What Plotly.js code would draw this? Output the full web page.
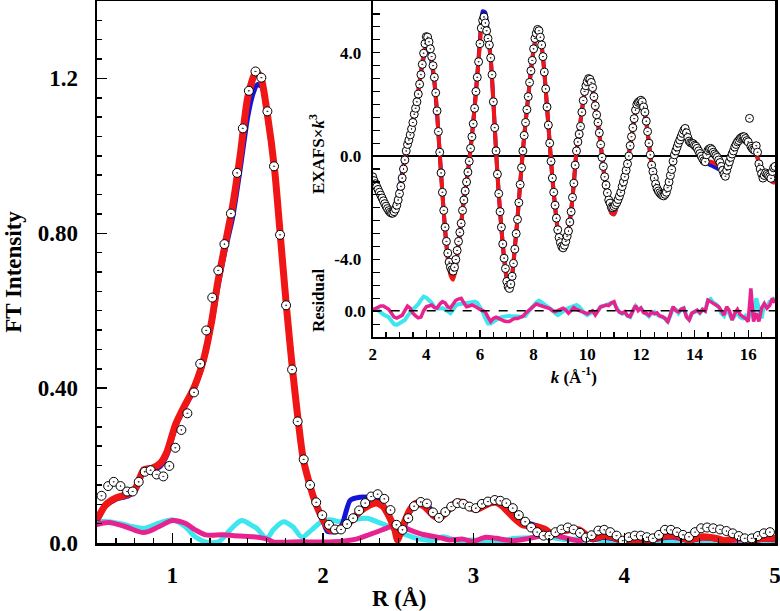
<!DOCTYPE html>
<html>
<head>
<meta charset="utf-8">
<script src="https://cdn.plot.ly/plotly-3.0.1.min.js"></script>
<style>html,body{margin:0;padding:0;background:#fff;}#chart{width:780px;height:611px;}</style>
</head>
<body>
<div id="chart"></div>
<script>
// ---------------- Main panel: FT magnitude vs R ----------------
const rData = [0.53,0.574,0.611,0.656,0.70,0.737,0.777,0.817,0.856,0.896,0.94,0.98,1.02,1.06,1.10,1.144,1.185,1.225,1.265,1.305,1.346,1.389,1.43,1.468,1.508,1.552,1.591,1.631,1.675,1.715,1.755,1.795,1.832,1.872,1.914,1.955,1.995,2.04,2.08,2.12,2.16,2.20,2.24,2.28,2.32,2.363,2.407,2.448,2.488,2.528,2.566,2.605,2.649,2.69,2.73,2.77,2.812,2.852,2.892,2.932,2.972,3.015,3.055,3.095,3.14,3.177,3.217,3.26,3.30,3.342,3.382,3.422,3.464,3.503,3.543,3.583,3.625,3.664,3.706,3.746,3.783,3.828,3.867,3.907,3.949,3.99,4.03,4.07,4.11,4.15,4.19,4.23,4.27,4.31,4.35,4.39,4.43,4.47,4.51,4.55,4.59,4.636,4.678,4.72,4.76,4.80,4.846,4.887,4.927,4.967];
const ftData = [0.122,0.147,0.158,0.147,0.133,0.133,0.158,0.184,0.188,0.177,0.172,0.199,0.246,0.292,0.335,0.389,0.463,0.549,0.634,0.704,0.772,0.851,0.956,1.071,1.168,1.218,1.202,1.115,0.973,0.796,0.614,0.448,0.314,0.216,0.150,0.105,0.072,0.047,0.035,0.035,0.049,0.064,0.084,0.103,0.120,0.126,0.114,0.085,0.047,0.034,0.064,0.095,0.106,0.102,0.079,0.065,0.080,0.094,0.103,0.101,0.094,0.090,0.101,0.107,0.111,0.109,0.103,0.090,0.072,0.055,0.040,0.028,0.019,0.019,0.028,0.035,0.040,0.035,0.026,0.014,0.020,0.032,0.034,0.028,0.019,0.006,0.015,0.019,0.019,0.015,0.012,0.021,0.034,0.034,0.028,0.021,0.016,0.028,0.038,0.040,0.038,0.035,0.031,0.025,0.018,0.012,0.012,0.018,0.025,0.028];

const rFitRed = [0.5,0.556,0.62,0.71,0.755,0.81,0.865,0.92,0.965,1.02,1.075,1.13,1.163,1.207,1.263,1.3,1.35,1.4,1.45,1.5,1.555,1.59,1.63,1.68,1.72,1.76,1.8,1.87,1.936,2.0,2.046,2.07,2.11,2.18,2.245,2.31,2.356,2.4,2.44,2.477,2.495,2.52,2.576,2.62,2.675,2.73,2.775,2.82,2.885,2.93,2.974,3.02,3.106,3.15,3.194,3.26,3.327,3.415,3.48,3.525,3.57,3.636,3.7,3.746,3.79,3.856,3.92,3.99,4.077,4.165,4.27,4.34,4.43,4.52,4.61,4.67,4.76,4.85,4.92,5.0];
const ftFitRed = [0.06,0.098,0.115,0.127,0.141,0.189,0.193,0.206,0.236,0.305,0.35,0.39,0.42,0.473,0.577,0.67,0.77,0.87,1.0,1.15,1.218,1.2,1.11,0.96,0.78,0.6,0.44,0.215,0.12,0.06,0.034,0.032,0.038,0.055,0.081,0.098,0.103,0.094,0.068,0.034,0.008,0.034,0.085,0.103,0.094,0.072,0.064,0.081,0.105,0.105,0.092,0.087,0.103,0.105,0.094,0.068,0.047,0.042,0.034,0.021,0.029,0.034,0.034,0.021,0.012,0.018,0.016,0.006,0.008,0.008,0.018,0.02,0.008,0.016,0.012,0.006,0.016,0.008,0.012,0.012];

const rFitBlue = [0.5,0.556,0.62,0.71,0.755,0.81,0.865,0.92,0.965,1.02,1.075,1.13,1.163,1.207,1.263,1.3,1.35,1.4,1.45,1.5,1.535,1.565,1.595,1.63,1.68,1.72,1.76,1.8,1.87,1.936,2.0,2.03,2.1,2.13,2.18,2.245,2.3,2.356,2.42,2.47,2.505,2.53,2.576,2.65,2.7,2.75,2.775,2.82,2.885,2.93,2.974,3.02,3.106,3.15,3.194,3.26,3.33,3.415,3.48,3.525,3.57,3.636,3.7,3.746,3.79,3.856,3.92,3.99,4.077,4.165,4.27,4.34,4.43,4.52,4.61,4.67,4.76,4.85,4.92,5.0];
const ftFitBlue = [0.058,0.095,0.112,0.122,0.135,0.183,0.188,0.198,0.228,0.298,0.345,0.385,0.415,0.468,0.57,0.655,0.755,0.84,0.965,1.1,1.16,1.184,1.178,1.1,0.955,0.78,0.6,0.44,0.215,0.12,0.058,0.03,0.03,0.05,0.11,0.118,0.118,0.114,0.081,0.045,0.016,0.03,0.08,0.107,0.095,0.068,0.066,0.083,0.107,0.106,0.093,0.088,0.104,0.105,0.097,0.078,0.056,0.045,0.034,0.021,0.027,0.032,0.03,0.018,0.008,0.014,0.012,0.004,0.006,0.006,0.014,0.016,0.006,0.014,0.01,0.004,0.014,0.006,0.01,0.01];

const rResCyan = [0.49,0.578,0.667,0.74,0.81,0.91,1.0,1.086,1.152,1.22,1.307,1.384,1.46,1.53,1.56,1.627,1.67,1.737,1.8,1.86,1.925,1.99,2.046,2.11,2.2,2.29,2.377,2.466,2.554,2.642,2.73,2.797,2.885,2.995,3.1,3.2,3.26,3.39,3.46,3.55,3.64,3.75,3.85,3.95,4.1,4.3,4.5,4.7,5.0];
const ftResCyan = [0.055,0.055,0.049,0.042,0.038,0.051,0.06,0.042,0.016,0.003,0.003,0.034,0.058,0.045,0.038,0.012,0.034,0.055,0.042,0.015,0.034,0.055,0.06,0.055,0.06,0.064,0.052,0.038,0.021,0.01,0.007,0.016,0.007,0.008,0.004,0.006,0.012,0.014,0.02,0.012,0.008,0.014,0.006,0.004,0.006,0.004,0.006,0.004,0.004];

const rResPink = [0.49,0.578,0.69,0.81,0.91,1.0,1.086,1.152,1.22,1.33,1.41,1.54,1.627,1.67,1.85,2.07,2.22,2.31,2.42,2.49,2.576,2.664,2.775,2.84,2.93,2.995,3.08,3.15,3.26,3.37,3.5,3.6,3.7,3.83,3.92,4.0,4.14,4.29,4.43,4.55,4.7,4.85,5.0];
const ftResPink = [0.047,0.053,0.042,0.027,0.042,0.058,0.051,0.034,0.021,0.021,0.019,0.016,0.01,0.003,0.003,0.003,0.01,0.022,0.038,0.048,0.034,0.022,0.014,0.008,0.01,0.004,0.015,0.012,0.006,0.012,0.021,0.014,0.006,0.016,0.012,0.003,0.006,0.016,0.008,0.012,0.006,0.01,0.008];

const rTickVals = [1,2,3,4,5];
const ftLabelVals = [0,0.4,0.8,1.2];
const ftLabelText = ['0.0','0.40','0.80','1.2'];
const ftMajorTickVals = [0,0.1,0.2,0.3,0.4,0.5,0.6,0.7,0.8,0.9,1.0,1.1,1.2,1.3,1.4];

// ---------------- Inset: EXAFS x k^3 vs k ----------------
const kStart = 2;
const kStepData = 0.05;
const kStepFit = 0.1;
const exafsData = [
 -0.80,-0.95,-1.07,-1.18,-1.29,-1.40,-1.51,-1.62,-1.73,-1.84,-1.94,-2.03,-2.11,-2.17,-2.21,-2.21,-2.15,-2.05,-1.90,-1.70,
 -1.45,-1.17,-0.85,-0.50,-0.15,0.20,0.45,0.62,0.82,1.05,1.30,1.62,1.85,2.10,2.40,2.78,3.15,3.55,3.98,4.35,
 4.62,4.60,4.42,4.15,3.85,3.50,3.05,2.45,1.75,0.95,0.15,-0.65,-1.40,-2.10,-2.75,-3.30,-3.75,-4.10,-4.30,-4.40,
 -4.45,-4.30,-4.00,-3.65,-3.30,-2.95,-2.60,-2.10,-1.70,-1.35,-1.00,-0.62,-0.20,0.30,0.75,1.25,1.85,2.50,3.05,3.65,
 4.35,4.95,5.25,5.38,5.15,4.85,4.55,4.30,3.80,3.15,2.10,1.10,0.20,-0.70,-1.45,-2.15,-2.75,-3.40,-3.95,-4.35,
 -4.85,-5.05,-5.12,-4.95,-4.65,-4.15,-3.60,-3.00,-2.45,-1.80,-1.10,-0.45,0.20,0.80,1.30,1.80,2.30,2.85,3.30,3.70,
 4.15,4.55,4.75,4.90,4.85,4.60,4.30,3.85,3.25,2.60,1.90,1.20,0.50,-0.20,-0.85,-1.40,-1.90,-2.40,-2.85,-3.15,
 -3.35,-3.50,-3.55,-3.45,-3.30,-3.10,-2.90,-2.55,-2.15,-1.60,-1.05,-0.35,0.20,0.55,0.85,1.15,1.70,2.15,2.50,2.72,
 2.88,3.00,2.97,2.85,2.65,2.30,1.95,1.60,1.30,0.90,0.45,-0.05,-0.40,-0.80,-1.12,-1.42,-1.70,-1.82,-1.98,-2.00,
 -1.95,-1.88,-1.80,-1.68,-1.55,-1.40,-1.18,-1.00,-0.80,-0.55,-0.30,0.00,0.40,0.75,1.10,1.45,1.78,2.00,2.08,2.12,
 2.16,2.10,1.90,1.70,1.35,0.95,0.50,0.05,-0.35,-0.60,-0.85,-1.08,-1.25,-1.35,-1.42,-1.48,-1.52,-1.54,-1.48,-1.40,
 -1.22,-1.00,-0.75,-0.52,-0.20,0.05,0.20,0.35,0.50,0.62,0.75,0.88,1.00,1.07,0.90,0.72,0.58,0.52,0.50,0.48,
 0.42,0.38,0.30,0.20,0.10,0.00,-0.10,-0.18,-0.22,0.05,0.22,0.28,0.30,0.25,0.15,0.08,0.02,-0.05,-0.15,-0.25,
 -0.40,-0.55,-0.70,-0.78,-0.55,-0.38,-0.22,-0.05,0.08,0.20,0.35,0.45,0.55,0.60,0.68,0.72,0.75,0.75,0.68,0.60,
 0.55,1.46,0.38,0.30,0.25,0.22,0.40,0.15,-0.30,-0.50,-0.68,-0.85,-0.75,-0.65,-0.70,-0.75,-0.80,-0.86,-0.60,-0.45,
 -0.40];
const exafsFitRed = [
 -0.95,-1.2,-1.45,-1.68,-1.88,-2.05,-2.18,-2.25,-2.2,-1.95,
 -1.5,-0.88,-0.15,0.45,0.85,1.32,1.9,2.5,3.25,3.95,
 4.35,4.3,3.75,2.95,1.7,0.1,-1.45,-2.85,-3.95,-4.6,
 -4.78,-4.3,-3.4,-2.6,-1.7,-1.0,-0.2,0.75,1.85,3.05,
 4.35,5.4,5.3,4.6,3.75,2.1,0.2,-1.45,-2.8,-3.95,
 -4.7,-4.88,-4.55,-3.55,-2.4,-1.05,0.2,1.3,2.3,3.3,
 4.1,4.6,4.65,4.25,3.25,1.9,0.5,-0.85,-1.95,-2.85,
 -3.35,-3.45,-3.3,-2.85,-2.1,-1.05,0.2,0.95,1.75,2.45,
 2.85,2.95,2.6,1.95,1.25,0.45,-0.45,-1.25,-1.85,-2.2,
 -2.25,-1.95,-1.55,-1.15,-0.75,-0.25,0.4,1.1,1.7,2.0,
 2.05,1.85,1.3,0.5,-0.35,-0.85,-1.2,-1.38,-1.42,-1.3,
 -1.05,-0.7,-0.2,0.2,0.45,0.65,0.82,0.8,0.55,0.4,
 0.3,0.2,0.08,-0.05,-0.15,-0.2,-0.22,-0.25,-0.3,-0.38,
 -0.45,-0.5,-0.35,-0.15,0.05,0.3,0.5,0.62,0.62,0.55,
 0.5,0.4,0.3,0.1,-0.25,-0.55,-0.72,-0.78,-0.9,-1.0,
 -1.03];
const exafsFitBlue = [
 -0.9,-1.1,-1.32,-1.55,-1.75,-1.9,-2.0,-2.05,-1.95,-1.65,
 -1.2,-0.65,-0.05,0.5,0.9,1.35,1.9,2.5,3.2,3.8,
 4.08,4.05,3.6,2.85,1.65,0.1,-1.45,-2.85,-3.9,-4.5,
 -4.65,-4.25,-3.4,-2.6,-1.7,-1.0,-0.2,0.8,1.9,3.15,
 4.5,5.6,5.55,4.7,3.8,2.1,0.2,-1.45,-2.8,-3.95,
 -4.75,-4.95,-4.6,-3.55,-2.4,-1.05,0.2,1.3,2.3,3.3,
 4.1,4.6,4.65,4.25,3.25,1.9,0.5,-0.85,-1.95,-2.85,
 -3.35,-3.45,-3.3,-2.85,-2.1,-1.05,0.2,0.95,1.75,2.45,
 2.85,2.95,2.6,1.95,1.25,0.45,-0.45,-1.25,-1.85,-2.2,
 -2.25,-1.95,-1.55,-1.15,-0.75,-0.25,0.4,1.1,1.7,2.0,
 2.05,1.85,1.3,0.5,-0.35,-0.85,-1.2,-1.38,-1.42,-1.3,
 -1.05,-0.7,-0.2,0.2,0.45,0.65,0.82,0.8,0.55,0.4,
 0.3,0.2,0.08,-0.05,-0.15,-0.3,-0.35,-0.4,-0.45,-0.5,
 -0.52,-0.5,-0.35,-0.15,0.05,0.3,0.5,0.62,0.62,0.55,
 0.5,0.4,0.3,0.1,-0.25,-0.5,-0.6,-0.7,-0.8,-0.95,
 -1.0];
const residualCyan = [
 0.03,0.05,0.02,-0.08,-0.15,-0.2,-0.25,-0.4,-0.52,-0.55,
 -0.5,-0.42,-0.36,-0.2,-0.05,0.05,0.15,0.25,0.42,0.54,
 0.5,0.42,0.3,0.15,0.08,0.08,0.1,0.05,-0.05,-0.1,
 0.05,0.2,0.25,0.28,0.28,0.3,0.31,0.32,0.35,0.3,
 0.15,-0.04,-0.3,-0.5,-0.5,-0.42,-0.36,-0.3,-0.25,-0.22,
 -0.2,-0.2,-0.22,-0.23,-0.23,-0.23,-0.22,-0.2,-0.05,0.1,
 0.2,0.32,0.39,0.32,0.25,0.2,0.12,0.02,-0.1,-0.17,
 -0.1,0.0,0.05,0.1,0.15,0.2,0.22,0.15,0.02,-0.1,
 -0.17,-0.12,-0.05,-0.12,0.05,0.15,0.18,0.22,0.25,0.3,
 0.28,0.1,-0.05,-0.12,-0.08,-0.2,-0.25,0.0,0.18,0.05,
 0.1,-0.05,-0.15,-0.22,-0.1,-0.05,-0.15,-0.2,-0.25,-0.3,
 -0.45,-0.2,0.1,0.05,-0.1,0.05,0.1,-0.2,-0.35,-0.1,
 -0.05,0.0,-0.1,0.05,0.0,0.4,0.45,0.3,0.25,0.15,
 -0.1,-0.2,0.1,-0.15,-0.35,-0.2,-0.05,-0.25,-0.3,-0.2,
 -0.35,0.2,-0.3,0.48,0.1,-0.3,0.25,0.1,0.35,0.4,
 0.5];
const residualPink = [
 0.03,0.08,0.15,0.18,0.18,0.12,0.05,-0.1,-0.25,-0.29,
 -0.25,-0.18,0.0,0.18,0.1,-0.1,-0.2,-0.28,-0.25,0.0,
 0.15,0.2,0.22,0.12,0.1,0.25,0.35,0.3,0.15,0.1,
 0.25,0.4,0.45,0.48,0.3,0.15,0.18,0.22,0.18,0.1,
 0.05,0.0,-0.05,-0.25,-0.42,-0.3,-0.25,-0.3,-0.36,-0.4,
 -0.42,-0.42,-0.35,-0.3,-0.3,-0.25,-0.22,-0.1,0.0,0.1,
 0.2,0.26,0.22,0.18,0.15,0.1,0.08,0.0,-0.04,0.0,
 0.06,0.09,0.02,-0.1,0.0,0.12,0.05,0.02,-0.04,-0.08,
 -0.12,-0.05,0.0,-0.17,0.0,0.15,0.18,0.22,0.2,0.3,
 0.35,0.05,-0.05,-0.1,-0.04,-0.2,-0.23,0.0,0.2,0.0,
 0.1,-0.08,-0.1,-0.18,-0.05,-0.12,-0.08,-0.2,-0.23,-0.3,
 -0.42,-0.15,0.15,0.0,-0.05,0.05,0.09,-0.25,-0.36,-0.1,
 -0.04,0.02,-0.08,0.05,-0.02,0.41,0.35,0.28,0.2,0.15,
 0.0,-0.17,0.15,0.0,-0.36,-0.1,0.05,-0.15,-0.23,-0.3,
 -0.42,0.86,-0.42,-0.1,-0.42,0.1,0.28,0.1,0.2,0.48,
 0.3];
const kTickVals = [2,4,6,8,10,12,14,16];
const exafsLabelVals = [-4,0,4];
const exafsLabelText = ['-4.0','0.0','4.0'];
const resLabelVals = [0];
const resLabelText = ['0.0'];

// ---------------- Styling ----------------
const SERIF = "'Liberation Serif', 'Times New Roman', serif";
const RED = '#f01616';
const BLUE = '#1414d6';
const CYAN = '#3ee6f0';
const PINK = '#e8228e';

const circleMarker = (size) => ({symbol: 'circle-dot', size: size, color: '#ffffff', line: {color: '#000000', width: 1}});

const traces = [
  {x: rResCyan, y: ftResCyan, mode: 'lines', line: {color: CYAN, width: 5, shape: 'spline', smoothing: 0.8}, xaxis: 'x', yaxis: 'y', hoverinfo: 'skip'},
  {x: rResPink, y: ftResPink, mode: 'lines', line: {color: PINK, width: 5, shape: 'spline', smoothing: 0.8}, xaxis: 'x', yaxis: 'y', hoverinfo: 'skip'},
  {x: rFitBlue, y: ftFitBlue, mode: 'lines', line: {color: BLUE, width: 5, shape: 'spline', smoothing: 0.6}, xaxis: 'x', yaxis: 'y'},
  {x: rFitRed, y: ftFitRed, mode: 'lines', line: {color: RED, width: 7, shape: 'spline', smoothing: 0.6}, xaxis: 'x', yaxis: 'y'},
  {x: rData, y: ftData, mode: 'markers', marker: circleMarker(9), xaxis: 'x', yaxis: 'y'},

  {x0: kStart, dx: kStepFit, y: residualCyan, mode: 'lines', line: {color: CYAN, width: 4}, xaxis: 'x2', yaxis: 'y3'},
  {x0: kStart, dx: kStepFit, y: residualPink, mode: 'lines', line: {color: PINK, width: 3.5}, xaxis: 'x2', yaxis: 'y3'},
  {x0: kStart, dx: kStepFit, y: exafsFitBlue, mode: 'lines', line: {color: BLUE, width: 4, shape: 'spline', smoothing: 0.7}, xaxis: 'x2', yaxis: 'y2'},
  {x0: kStart, dx: kStepFit, y: exafsFitRed, mode: 'lines', line: {color: RED, width: 4, shape: 'spline', smoothing: 0.7}, xaxis: 'x2', yaxis: 'y2'},
  {x0: kStart, dx: kStepData, y: exafsData, mode: 'markers', marker: circleMarker(8), xaxis: 'x2', yaxis: 'y2'}
];

const mainTickFont = {family: SERIF, size: 23, color: '#000', weight: 'bold'};
const insetTickFont = {family: SERIF, size: 17, color: '#000', weight: 'bold'};

const layout = {
  width: 780, height: 611,
  margin: {l: 97, r: 5, t: 1, b: 68},
  paper_bgcolor: '#ffffff', plot_bgcolor: 'rgba(0,0,0,0)',
  showlegend: false,
  font: {family: SERIF, color: '#000'},
  xaxis: {
    domain: [0, 1], range: [0.5, 5.0005], anchor: 'y',
    showline: true, linecolor: '#000', linewidth: 2.5, mirror: true,
    showgrid: false, zeroline: false,
    ticks: 'inside', ticklen: 10, tickwidth: 1.5, tickcolor: '#000',
    tickmode: 'array', tickvals: rTickVals, ticktext: rTickVals.map(String),
    ticklabelstandoff: 10, ticklabeloverflow: 'allow',
    minor: {tickmode: 'linear', tick0: 0.5, dtick: 0.125, ticks: 'inside', ticklen: 5, tickwidth: 1.5, tickcolor: '#000', showgrid: false},
    tickfont: mainTickFont
  },
  yaxis: {
    domain: [0, 1], range: [0, 1.4], anchor: 'x',
    showline: true, linecolor: '#000', linewidth: 2.5, mirror: true,
    showgrid: false, zeroline: false,
    ticks: 'inside', ticklen: 10, tickwidth: 1.5, tickcolor: '#000',
    tickmode: 'array', tickvals: ftLabelVals, ticktext: ftLabelText,
    ticklabelstandoff: 12, ticklabeloverflow: 'allow',
    minor: {tickmode: 'linear', tick0: 0, dtick: 0.05, ticks: 'inside', ticklen: 5, tickwidth: 1.5, tickcolor: '#000', showgrid: false},
    tickfont: mainTickFont,
    title: {text: 'FT Intensity', font: {family: SERIF, size: 23, color: '#000', weight: 'bold'}, standoff: 10}
  },
  yaxis4: {
    overlaying: 'y', anchor: 'x', side: 'left', range: [0, 1.4],
    showline: false, showgrid: false, zeroline: false, showticklabels: false,
    ticks: 'inside', ticklen: 10, tickwidth: 1.5, tickcolor: '#000',
    tickmode: 'array', tickvals: ftMajorTickVals
  },
  xaxis2: {
    domain: [0.4066, 1], range: [2, 17], anchor: 'y2',
    showline: true, linecolor: '#000', linewidth: 2,
    showgrid: false, zeroline: false,
    ticks: 'inside', ticklen: 7, tickwidth: 1.2, tickcolor: '#000',
    tickmode: 'array', tickvals: kTickVals, ticktext: kTickVals.map(String),
    ticklabelstandoff: 1, ticklabeloverflow: 'allow',
    minor: {tickmode: 'linear', tick0: 0, dtick: 0.5, ticks: 'inside', ticklen: 5, tickwidth: 1.2, tickcolor: '#000', showgrid: false},
    tickfont: insetTickFont,
    title: {text: '<i>k</i> (Å<sup>-1</sup>)', font: {family: SERIF, size: 17, color: '#000', weight: 'bold'}, standoff: 0}
  },
  yaxis2: {
    domain: [0.38, 1], range: [-7, 6], anchor: 'x2',
    showline: true, linecolor: '#000', linewidth: 2,
    showgrid: false,
    zeroline: true, zerolinecolor: '#000', zerolinewidth: 1.5,
    ticks: 'inside', ticklen: 7, tickwidth: 1.2, tickcolor: '#000',
    tickmode: 'array', tickvals: exafsLabelVals, ticktext: exafsLabelText,
    ticklabelstandoff: 6, ticklabeloverflow: 'allow',
    minor: {tickmode: 'linear', tick0: 0, dtick: 0.5, ticks: 'inside', ticklen: 7, tickwidth: 1.2, tickcolor: '#000', showgrid: false},
    tickfont: insetTickFont
  },
  yaxis3: {
    overlaying: 'y2', anchor: 'x2', side: 'left', range: [-1.02, 11.98],
    showline: false, showgrid: false, zeroline: false,
    ticks: 'inside', ticklen: 7, tickwidth: 1.2, tickcolor: '#000',
    tickmode: 'array', tickvals: resLabelVals, ticktext: resLabelText,
    ticklabelstandoff: 6, ticklabeloverflow: 'allow',
    tickfont: insetTickFont
  },
  shapes: [
    {type: 'line', xref: 'x2', yref: 'y3', x0: 2, x1: 17, y0: 0, y1: 0, line: {color: '#000', width: 1.5, dash: 'dash'}}
  ],
  annotations: [
    {text: 'R (Å)', xref: 'paper', yref: 'paper', x: 0.4454, y: -0.1015, xanchor: 'center', yanchor: 'middle', showarrow: false,
     font: {family: SERIF, size: 23, color: '#000', weight: 'bold'}},
    {text: 'EXAFS×<i>k</i><sup>3</sup>', xref: 'paper', yref: 'paper', x: 0.3245, y: 0.7177, xanchor: 'center', yanchor: 'middle', textangle: -90, showarrow: false,
     font: {family: SERIF, size: 17, color: '#000', weight: 'bold'}},
    {text: 'Residual', xref: 'paper', yref: 'paper', x: 0.326, y: 0.4483, xanchor: 'center', yanchor: 'middle', textangle: -90, showarrow: false,
     font: {family: SERIF, size: 17, color: '#000', weight: 'bold'}}
  ]
};

Plotly.newPlot('chart', traces, layout, {displayModeBar: false, staticPlot: true});
</script>
</body>
</html>
